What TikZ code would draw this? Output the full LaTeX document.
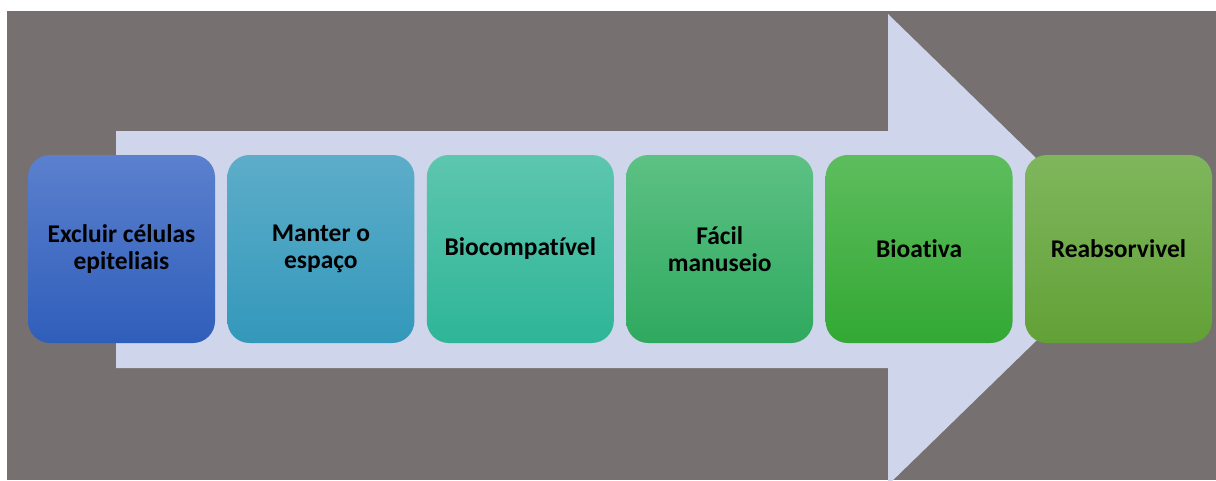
\documentclass[tikz,border=0pt]{standalone}
\usepackage{fontspec}
\setmainfont{Carlito}[Ligatures=NoCommon,RawFeature={-liga;-dlig}]
\definecolor{bg}{HTML}{767170}
\definecolor{arrowc}{HTML}{CFD5EA}
\definecolor{t1}{HTML}{5B80CE}\definecolor{u1}{HTML}{2F5EBA}
\definecolor{t2}{HTML}{5DADC9}\definecolor{u2}{HTML}{3398BB}
\definecolor{t3}{HTML}{5DC6AE}\definecolor{u3}{HTML}{2EB597}
\definecolor{t4}{HTML}{5DC184}\definecolor{u4}{HTML}{2FA95F}
\definecolor{t5}{HTML}{5DBD5D}\definecolor{u5}{HTML}{33A834}
\definecolor{t6}{HTML}{7FB65D}\definecolor{u6}{HTML}{62A136}
\tikzset{
  card/.style={rounded corners=22pt, minimum width=187pt, minimum height=188pt,
    inner sep=0pt, align=center, font=\fontsize{25.5}{27.5}\selectfont\bfseries, text=black},
}
\begin{document}
\begin{tikzpicture}[x=1pt,y=-1pt]
\useasboundingbox (0,0) rectangle (1216,480);
\fill[white] (0,0) rectangle (1216,480);
\fill[bg] (7,11) rectangle (1216,480);
\begin{scope}
\clip (7,11) rectangle (1216,480);
\fill[arrowc] (116,131) -- (888,131) -- (888,14) -- (1130,249.5) -- (888,485) -- (888,368) -- (116,368) -- cycle;
\end{scope}
\node[card, top color=t1, bottom color=u1] (b1) at (121.5,249) {Excluir células\\epiteliais};
\node[card, top color=t2, bottom color=u2] (b2) at (320.9,249) {Manter o\\espaço};
\node[card, top color=t3, bottom color=u3] (b3) at (520.3,249) {Biocompatível};
\node[card, top color=t4, bottom color=u4] (b4) at (719.7,249) {Fácil\\manuseio};
\node[card, top color=t5, bottom color=u5] (b5) at (919.1,249) {Bioativa};
\node[card, top color=t6, bottom color=u6] (b6) at (1118.5,249) {Reabsorvivel};
\end{tikzpicture}
\end{document}
